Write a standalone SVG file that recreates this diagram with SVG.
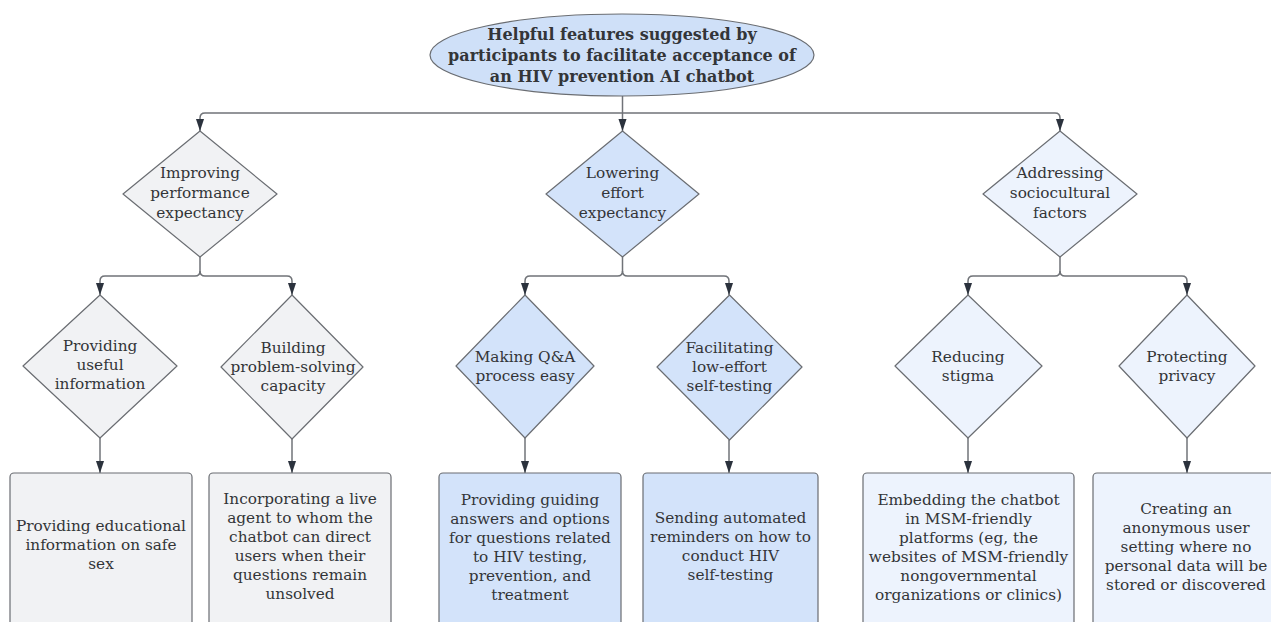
<svg xmlns="http://www.w3.org/2000/svg" width="1271" height="622" viewBox="0 0 1271 622">
  <defs>
    <marker id="arrow" markerWidth="13" markerHeight="10" refX="12.5" refY="5" orient="auto" markerUnits="userSpaceOnUse" viewBox="0 0 13 10">
      <path d="M0,0.8 L12.5,5 L0,9.2 Z" fill="#2b323d"/>
    </marker>
    <style>
      .bg { fill: #ffffff; }
      .shape { stroke: #6a6d72; stroke-width: 1.2; stroke-linejoin: round; }
      .gray { fill: #f1f2f4; }
      .blue { fill: #d3e3fa; }
      .pale { fill: #edf3fd; }
      .title { fill: #cfe0f8; }
      .conn path { fill: none; stroke: #707378; stroke-width: 1.5; }
      .conn path.arr { marker-end: url(#arrow); }
      text { font-family: "DejaVu Serif", "Liberation Serif", serif; font-size: 15.3px; fill: #333538; text-anchor: middle; }
      text.bold { font-weight: bold; font-size: 16px; }
    </style>
  </defs>

  <rect class="bg" x="0" y="0" width="1271" height="622"/>

  <!-- connectors -->
  <g id="connectors" class="conn">
    <!-- root to first tier -->
    <path class="arr" d="M622.5,95 V131"/>
    <path class="arr" d="M622.5,113 H205 Q200,113 200,118 V131"/>
    <path class="arr" d="M622.5,113 H1055 Q1060,113 1060,118 V131"/>
    <!-- performance branch -->
    <path class="arr" d="M200,257 V271 Q200,276 195,276 H105 Q100,276 100,281 V295"/>
    <path class="arr" d="M200,271 Q200,276 205,276 H287 Q292,276 292,281 V295"/>
    <!-- effort branch -->
    <path class="arr" d="M622.5,257 V271 Q622.5,276 617.5,276 H530 Q525,276 525,281 V295"/>
    <path class="arr" d="M622.5,271 Q622.5,276 627.5,276 H724 Q729,276 729,281 V295"/>
    <!-- sociocultural branch -->
    <path class="arr" d="M1060,257 V271 Q1060,276 1055,276 H973 Q968,276 968,281 V295"/>
    <path class="arr" d="M1060,271 Q1060,276 1065,276 H1182 Q1187,276 1187,281 V295"/>
    <!-- second tier to features -->
    <path class="arr" d="M100,438 V473"/>
    <path class="arr" d="M292,439 V473"/>
    <path class="arr" d="M525,438 V473"/>
    <path class="arr" d="M729,440 V473"/>
    <path class="arr" d="M968,438 V473"/>
    <path class="arr" d="M1187,438 V473"/>
  </g>

  <!-- root -->
  <g id="root">
    <ellipse class="shape title" cx="622" cy="55" rx="192" ry="41"/>
    <text class="bold" x="622" y="40">Helpful features suggested by</text>
    <text class="bold" x="622" y="61">participants to facilitate acceptance of</text>
    <text class="bold" x="622" y="82">an HIV prevention AI chatbot</text>
  </g>

  <!-- first tier -->
  <g id="performance">
    <polygon class="shape gray" points="200,131 277,194 200,257 123,194"/>
    <text x="200" y="178">Improving</text>
    <text x="200" y="198">performance</text>
    <text x="200" y="218">expectancy</text>
  </g>
  <g id="effort">
    <polygon class="shape blue" points="622.5,131 699,194 622.5,257 546,194"/>
    <text x="622.5" y="178">Lowering</text>
    <text x="622.5" y="198">effort</text>
    <text x="622.5" y="218">expectancy</text>
  </g>
  <g id="sociocultural">
    <polygon class="shape pale" points="1060,131 1137,194 1060,257 983,194"/>
    <text x="1060" y="178">Addressing</text>
    <text x="1060" y="198">sociocultural</text>
    <text x="1060" y="218">factors</text>
  </g>

  <!-- second tier -->
  <g id="useful-info">
    <polygon class="shape gray" points="100,295 177,366 100,438 23,366"/>
    <text x="100" y="351">Providing</text>
    <text x="100" y="370">useful</text>
    <text x="100" y="389">information</text>
  </g>
  <g id="problem-solving">
    <polygon class="shape gray" points="292,295 363,367 292,439 221,367"/>
    <text x="293" y="353">Building</text>
    <text x="293" y="372">problem-solving</text>
    <text x="293" y="391">capacity</text>
  </g>
  <g id="qa-process">
    <polygon class="shape blue" points="525,295 594,366 525,438 456,366"/>
    <text x="525" y="362">Making Q&amp;A</text>
    <text x="525" y="381">process easy</text>
  </g>
  <g id="self-testing">
    <polygon class="shape blue" points="729.5,295 802,367 729.5,440 657,367"/>
    <text x="729.5" y="353">Facilitating</text>
    <text x="729.5" y="372">low-effort</text>
    <text x="729.5" y="391">self-testing</text>
  </g>
  <g id="stigma">
    <polygon class="shape pale" points="968,295 1042,366 968,438 895,366"/>
    <text x="968" y="362">Reducing</text>
    <text x="968" y="381">stigma</text>
  </g>
  <g id="privacy">
    <polygon class="shape pale" points="1187,295 1255,366 1187,438 1119,366"/>
    <text x="1187" y="362">Protecting</text>
    <text x="1187" y="381">privacy</text>
  </g>

  <!-- features -->
  <g id="educational">
    <rect class="shape gray" x="10" y="473" width="182" height="155" rx="4"/>
    <text x="101" y="531">Providing educational</text>
    <text x="101" y="550">information on safe</text>
    <text x="101" y="569">sex</text>
  </g>
  <g id="live-agent">
    <rect class="shape gray" x="209" y="473" width="182" height="155" rx="4"/>
    <text x="300" y="504">Incorporating a live</text>
    <text x="300" y="523">agent to whom the</text>
    <text x="300" y="542">chatbot can direct</text>
    <text x="300" y="561">users when their</text>
    <text x="300" y="580">questions remain</text>
    <text x="300" y="599">unsolved</text>
  </g>
  <g id="guiding-answers">
    <rect class="shape blue" x="439" y="473" width="182" height="155" rx="4"/>
    <text x="530" y="505">Providing guiding</text>
    <text x="530" y="524">answers and options</text>
    <text x="530" y="543">for questions related</text>
    <text x="530" y="562">to HIV testing,</text>
    <text x="530" y="581">prevention, and</text>
    <text x="530" y="600">treatment</text>
  </g>
  <g id="reminders">
    <rect class="shape blue" x="643" y="473" width="175" height="155" rx="4"/>
    <text x="730.5" y="523">Sending automated</text>
    <text x="730.5" y="542">reminders on how to</text>
    <text x="730.5" y="561">conduct HIV</text>
    <text x="730.5" y="580">self-testing</text>
  </g>
  <g id="embedding">
    <rect class="shape pale" x="863" y="473" width="211" height="155" rx="4"/>
    <text x="968.5" y="505">Embedding the chatbot</text>
    <text x="968.5" y="524">in MSM-friendly</text>
    <text x="968.5" y="543">platforms (eg, the</text>
    <text x="968.5" y="562">websites of MSM-friendly</text>
    <text x="968.5" y="581">nongovernmental</text>
    <text x="968.5" y="600">organizations or clinics)</text>
  </g>
  <g id="anonymous">
    <rect class="shape pale" x="1093" y="473" width="185" height="155" rx="4"/>
    <text x="1186" y="514">Creating an</text>
    <text x="1186" y="533">anonymous user</text>
    <text x="1186" y="552">setting where no</text>
    <text x="1186" y="571">personal data will be</text>
    <text x="1186" y="590">stored or discovered</text>
  </g>
</svg>
